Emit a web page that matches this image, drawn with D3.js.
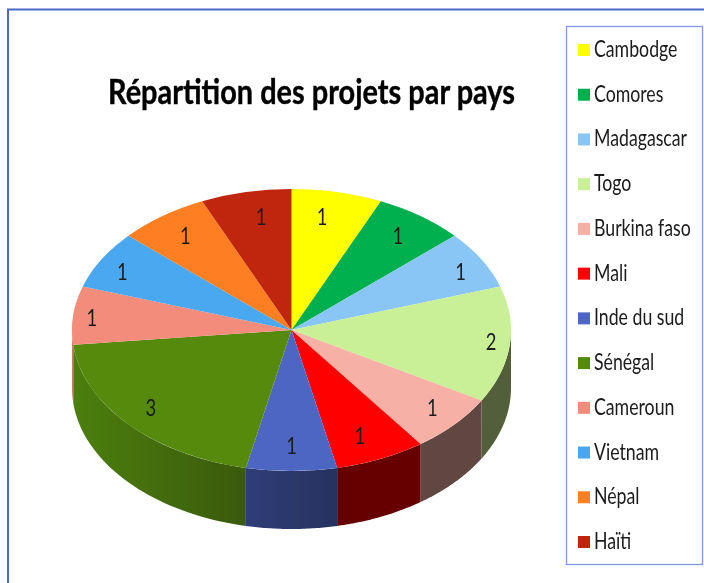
<!DOCTYPE html>
<html><head><meta charset="utf-8">
<script src="https://cdn.jsdelivr.net/npm/d3@7/dist/d3.min.js"></script>
<style>html,body{margin:0;padding:0;background:#fff;overflow:hidden}text{font-family:Lato,"Open Sans",sans-serif;fill:#1a1a1a}</style>
</head><body><svg id="c" width="704" height="583"></svg>
<script>
const categories=["Cambodge","Comores","Madagascar","Togo","Burkina faso","Mali","Inde du sud","Sénégal","Cameroun","Vietnam","Népal","Haïti"];
const values=[1,1,1,2,1,1,1,3,1,1,1,1];
const topColors=["#ffff00","#00b050","#8ac6f5","#c9f096","#f6b0a5","#ff0000","#4d66c4","#558a10","#f48c7c","#4aa8ef","#fd7f22","#c0250c"];
const wallLeft=["#888800","#005828","#456278","#525f3a","#614642","#660000","#2f3d78","#4c7f10","#d07868","#2a6a9a","#a04e10","#801808"];
const wallRight=["#888800","#005828","#456278","#525f3a","#614642","#660000","#27325f","#3a5a08","#d07868","#2a6a9a","#a04e10","#801808"];
const title="Répartition des projets par pays";

const W=704,H=583,cx=291.5,cy=330,rx=219.5,ry=141,depth=58;
const svg=d3.select("#c");
const defs=svg.append("defs");
defs.append("filter").attr("id","soft").append("feGaussianBlur").attr("stdDeviation",0.35);
const fx=d3.scaleLinear().domain([-1,1]).range([cx-rx,cx+rx]);
const fy=d3.scaleLinear().domain([-1,1]).range([cy-ry,cy+ry]);
const pie=d3.pie().sort(null).value(d=>d);
const arcs=pie(values);
const PX=a=>fx(Math.sin(a)),PY=a=>fy(-Math.cos(a));
const condensed=(sel,x,y,k)=>sel.attr("transform",`translate(${x},${y}) scale(${k},1)`);

// frame
svg.append("path").attr("d",`M8,${H} V9.5 H${W}`).attr("fill","none").attr("stroke","#4a69c4").attr("stroke-width",2);

const chart=svg.append("g").attr("filter","url(#soft)");

// walls
const line=d3.line();
arcs.forEach((d,i)=>{
  const a0=Math.max(d.startAngle,Math.PI/2),a1=Math.min(d.endAngle,Math.PI*1.5);
  if(a1<=a0)return;
  const n=40,as=d3.range(n+1).map(k=>a0+(a1-a0)*k/n);
  const pts=as.map(a=>[PX(a),PY(a)]).concat(as.slice().reverse().map(a=>[PX(a),PY(a)+depth]));
  const id="w"+i;
  const x1=d3.min(pts,p=>p[0]),x2=d3.max(pts,p=>p[0]);
  const g=defs.append("linearGradient").attr("id",id).attr("gradientUnits","userSpaceOnUse")
    .attr("x1",x1).attr("x2",x2).attr("y1",0).attr("y2",0);
  g.append("stop").attr("offset",0).attr("stop-color",wallLeft[i]);
  g.append("stop").attr("offset",1).attr("stop-color",wallRight[i]);
  chart.append("path").attr("d",line(pts)+"Z").attr("fill",`url(#${id})`);
});

// top surface
const arcGen=d3.arc().innerRadius(0).outerRadius(1);
const topG=chart.append("g").attr("transform",`translate(${cx},${cy}) scale(${rx},${ry})`);
topG.selectAll("path").data(arcs).join("path").attr("d",arcGen).attr("fill",(d,i)=>topColors[i]);

// value labels
const lx=d3.scaleLinear().domain([-1,1]).range([cx-201,cx+201]);
const ly=d3.scaleLinear().domain([-1,1]).range([cy-116,cy+116]);
chart.selectAll("text.v").data(arcs).join("text").attr("class","v")
  .each(function(d){
    const a=(d.startAngle+d.endAngle)/2,s=Math.sin(a);
    condensed(d3.select(this),lx(Math.sign(s)*Math.pow(Math.abs(s),1.2)),ly(-Math.cos(a))+8,0.8);
  })
  .attr("text-anchor","middle").attr("font-size",23).text(d=>d.data);

// title
chart.append("text").attr("x",108).attr("y",104).attr("textLength",407).attr("lengthAdjust","spacingAndGlyphs")
  .attr("font-size",35).attr("font-weight","bold").style("fill","#000").style("stroke","#000").style("stroke-width",0.4).text(title);

// legend
svg.append("rect").attr("x",566.5).attr("y",26.5).attr("width",136).attr("height",538)
  .attr("fill","#fff").attr("stroke","#8298e4").attr("stroke-width",1.3);
const rowY=d3.scalePoint().domain(categories).range([50,542]);
const lg=svg.append("g").attr("filter","url(#soft)").selectAll("g.l").data(categories).join("g").attr("class","l")
  .attr("transform",d=>`translate(0,${rowY(d)})`);
lg.append("rect").attr("x",578).attr("y",-6).attr("width",12).attr("height",12).attr("fill",(d,i)=>topColors[i]);
lg.append("text").attr("font-size",23).text(d=>d).each(function(){condensed(d3.select(this),594,7,0.77);});
</script></body></html>
